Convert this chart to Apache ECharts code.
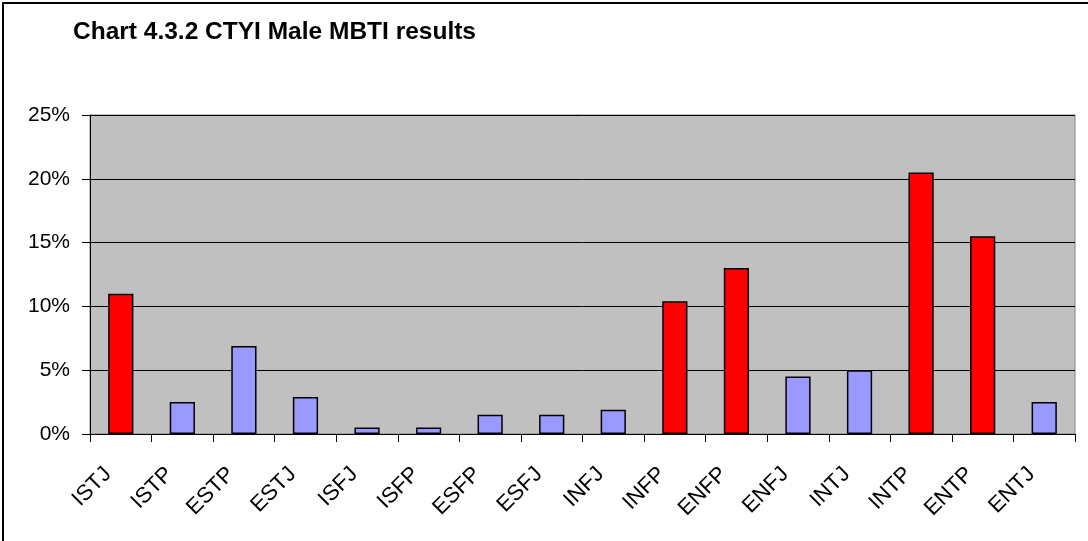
<!DOCTYPE html>
<html>
<head>
<meta charset="utf-8">
<script src="https://cdn.jsdelivr.net/npm/echarts@6/dist/echarts.min.js"></script>
<style>
  html, body { margin: 0; padding: 0; background: #fff; }
  #main { width: 1088px; height: 541px; }
</style>
</head>
<body>
<div id="main"></div>
<script>
// MBTI types on the x axis
var types = ['ISTJ', 'ISTP', 'ESTP', 'ESTJ', 'ISFJ', 'ISFP', 'ESFP', 'ESFJ',
             'INFJ', 'INFP', 'ENFP', 'ENFJ', 'INTJ', 'INTP', 'ENTP', 'ENTJ'];
// share of male respondents, percent
var shares = [11, 2.5, 6.9, 2.9, 0.5, 0.5, 1.5, 1.5,
              1.9, 10.4, 13, 4.5, 5, 20.5, 15.5, 2.5];
// types drawn in red
var highlighted = ['ISTJ', 'INFP', 'ENFP', 'INTP', 'ENTP'];
var yTicks = [0, 5, 10, 15, 20, 25];

var myChart = echarts.init(document.getElementById('main'));
var labelFont = 'Liberation Sans, Arial, sans-serif';

var option = {
    backgroundColor: '#fff',
    animation: false,
    title: {
        text: 'Chart 4.3.2 CTYI Male MBTI results',
        left: 68,
        top: 15,
        textStyle: {
            fontFamily: labelFont,
            fontSize: 24.5,
            fontWeight: 'bold',
            color: '#000'
        }
    },
    // frame line on the left and top edge
    graphic: [{
        type: 'polyline',
        shape: { points: [[3, 541], [3, 3], [1088, 3]] },
        style: { fill: 'none', stroke: '#000', lineWidth: 2 },
        silent: true
    }],
    grid: {
        left: 90,
        right: 13,
        top: 115,
        bottom: 107,
        show: true,
        backgroundColor: '#C0C0C0',
        borderColor: '#808080',
        borderWidth: 1
    },
    xAxis: {
        type: 'category',
        data: types,
        axisLine: { lineStyle: { color: '#000', width: 1 } },
        axisTick: { show: true, length: 8, lineStyle: { color: '#000' } },
        axisLabel: {
            rotate: 45,
            interval: 0,
            margin: 24,
            padding: [0, 18, 0, 0],
            fontFamily: labelFont,
            fontSize: 22,
            color: '#000'
        }
    },
    yAxis: {
        type: 'value',
        min: yTicks[0],
        max: yTicks[yTicks.length - 1],
        interval: yTicks[1] - yTicks[0],
        axisLine: { show: true, lineStyle: { color: '#000', width: 1 } },
        axisTick: { show: true, length: 8, lineStyle: { color: '#000' } },
        splitLine: { show: true, lineStyle: { color: '#000', width: 1 } },
        axisLabel: {
            formatter: '{value}%',
            margin: 20,
            fontFamily: labelFont,
            fontSize: 21,
            color: '#000'
        }
    },
    series: [{
        type: 'bar',
        data: shares,
        barWidth: '41%',
        itemStyle: {
            color: function(params) {
                return highlighted.indexOf(types[params.dataIndex]) >= 0 ? '#FF0000' : '#9999FF';
            },
            borderColor: '#000',
            borderWidth: 1.5
        }
    }]
};
myChart.setOption(option);
</script>
</body>
</html>
